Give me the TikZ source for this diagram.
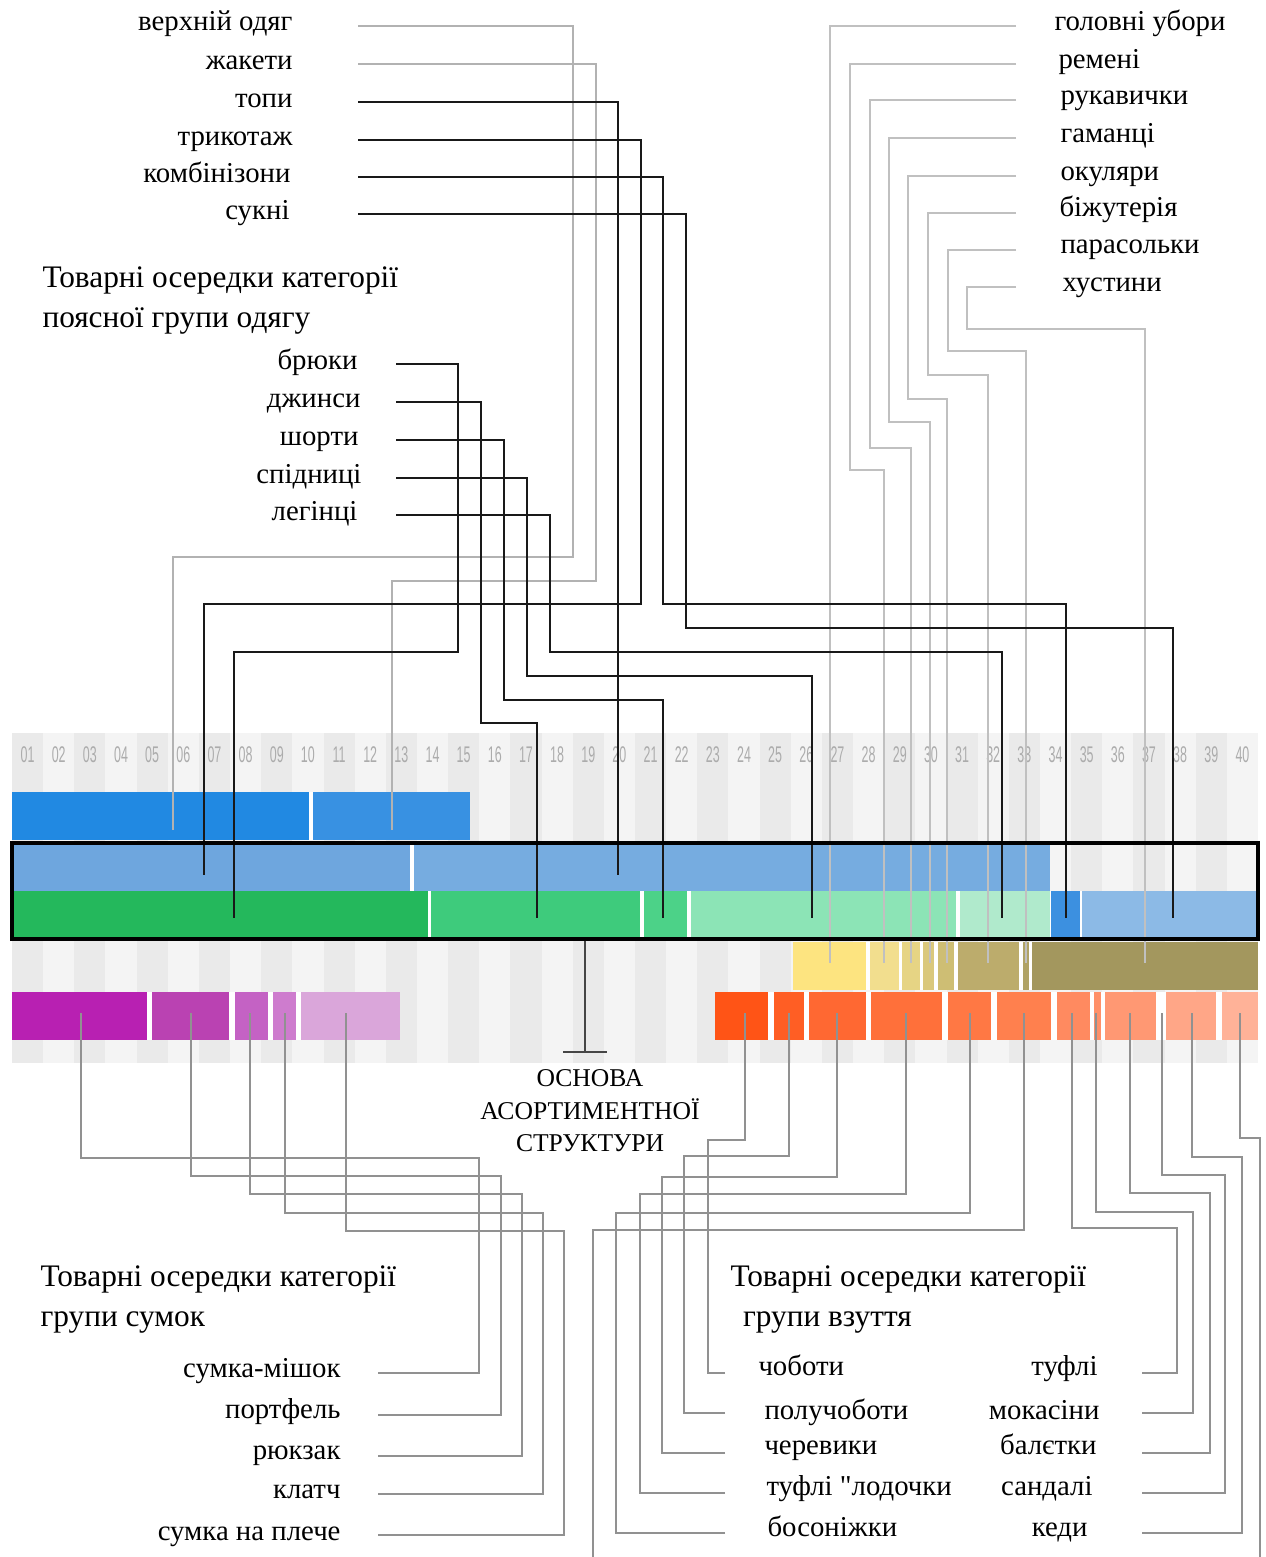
\documentclass[tikz,border=0pt]{standalone}
\usepackage{fontspec}
\setmainfont{Liberation Serif}
\setsansfont{Liberation Sans}
\newfontfamily\plainq{Liberation Serif}[Ligatures=TeXOff]
\usetikzlibrary{fit}

\tikzset{every picture/.style={line width=0.75pt}}
\tikzset{
  lbl/.style={font=\fontsize{21.6}{25}\selectfont, inner sep=0pt, text height=0.9em, text depth=0.1em},
  lblE/.style={lbl, anchor=east},
  lblW/.style={lbl, anchor=west},
  heading/.style={font=\fontsize{23.5}{30}\selectfont, align=left, anchor=north west, inner sep=0pt},
  colnum/.style={font=\sffamily\fontsize{17}{17}\selectfont, text={rgb, 255:red, 172; green, 172; blue, 172 }, inner sep=0pt},
  blkline/.style={draw={rgb, 255:red, 25; green, 25; blue, 25 }, line width=2.2pt},
  topgray/.style={draw={rgb, 255:red, 178; green, 178; blue, 178 }, line width=1.2pt},
  accgray/.style={draw={rgb, 255:red, 192; green, 192; blue, 192 }, line width=1.5pt},
  botgray/.style={draw={rgb, 255:red, 145; green, 145; blue, 145 }, line width=1pt},
  corebox/.style={draw=black, line width=2.3pt, inner sep=0pt},
  stemline/.style={draw={rgb, 255:red, 70; green, 70; blue, 70 }, line width=2.2pt},
}
\definecolor{stripeA}{RGB}{234,234,234}
\definecolor{stripeB}{RGB}{244,244,244}

\begin{document}
\begin{tikzpicture}[x=0.75pt,y=0.75pt,yscale=-1,xscale=1]
\useasboundingbox (0,0) rectangle (1266,1557);

%Columns 01..40 [background stripes]
\foreach \i in {1,...,40}{
  \ifodd\i \def\stripe{stripeA}\else\def\stripe{stripeB}\fi
  \fill[\stripe] ({12+(\i-1)*31.15},733) rectangle ({12+\i*31.15},1063);
  \node[colnum] (n\i) at ({12+(\i-0.5)*31.15},755) {\scalebox{0.55}[1]{\ifnum\i<10 0\fi\i}};
}

%Row 1: blue
\fill [white] (12,792) rectangle (470,840);
\fill [fill={rgb, 255:red, 33; green, 137; blue, 226 }] (12,792) rectangle (309,840);
\fill [fill={rgb, 255:red, 56; green, 145; blue, 226 }] (313,792) rectangle (470,840);

%Row 2: light blue
\fill [white] (12,843) rectangle (1050,891);
\fill [fill={rgb, 255:red, 110; green, 166; blue, 222 }] (12,843) rectangle (410,891);
\fill [fill={rgb, 255:red, 118; green, 172; blue, 224 }] (413.5,843) rectangle (1050,891);

%Row 3: greens and blues
\fill [white] (12,891) rectangle (1258,939);
\fill [fill={rgb, 255:red, 36; green, 184; blue, 92 }] (12,891) rectangle (428,939);
\fill [fill={rgb, 255:red, 62; green, 203; blue, 124 }] (431,891) rectangle (640,939);
\fill [fill={rgb, 255:red, 76; green, 210; blue, 136 }] (644,891) rectangle (687,939);
\fill [fill={rgb, 255:red, 140; green, 228; blue, 182 }] (691,891) rectangle (956,939);
\fill [fill={rgb, 255:red, 176; green, 234; blue, 204 }] (960,891) rectangle (1050,939);
\fill [fill={rgb, 255:red, 60; green, 144; blue, 224 }] (1051,891) rectangle (1080,939);
\fill [fill={rgb, 255:red, 140; green, 186; blue, 230 }] (1082,891) rectangle (1258,939);

%Row 4: yellow to olive
\fill [white] (793,942) rectangle (1258,990);
\fill [fill={rgb, 255:red, 253; green, 228; blue, 128 }] (793,942) rectangle (866,990);
\fill [fill={rgb, 255:red, 242; green, 222; blue, 142 }] (870,942) rectangle (899,990);
\fill [fill={rgb, 255:red, 230; green, 212; blue, 132 }] (902,942) rectangle (920,990);
\fill [fill={rgb, 255:red, 218; green, 200; blue, 124 }] (923,942) rectangle (934,990);
\fill [fill={rgb, 255:red, 206; green, 190; blue, 116 }] (938,942) rectangle (954,990);
\fill [fill={rgb, 255:red, 188; green, 172; blue, 108 }] (958,942) rectangle (1019,990);
\fill [fill={rgb, 255:red, 176; green, 163; blue, 102 }] (1023,942) rectangle (1029,990);
\fill [fill={rgb, 255:red, 163; green, 151; blue, 94 }] (1032,942) rectangle (1258,990);

%Row 5: purples
\fill [white] (12,992) rectangle (400,1040);
\fill [fill={rgb, 255:red, 184; green, 32; blue, 178 }] (12,992) rectangle (147,1040);
\fill [fill={rgb, 255:red, 186; green, 66; blue, 178 }] (152,992) rectangle (229,1040);
\fill [fill={rgb, 255:red, 196; green, 98; blue, 196 }] (235,992) rectangle (268,1040);
\fill [fill={rgb, 255:red, 206; green, 124; blue, 206 }] (273,992) rectangle (296,1040);
\fill [fill={rgb, 255:red, 218; green, 166; blue, 218 }] (301,992) rectangle (400,1040);

%Row 5: oranges
\fill [white] (715,992) rectangle (1258,1040);
\fill [fill={rgb, 255:red, 255; green, 84; blue, 22 }] (715,992) rectangle (768,1040);
\fill [fill={rgb, 255:red, 255; green, 94; blue, 36 }] (774,992) rectangle (804,1040);
\fill [fill={rgb, 255:red, 255; green, 104; blue, 50 }] (809,992) rectangle (866,1040);
\fill [fill={rgb, 255:red, 255; green, 112; blue, 58 }] (871,992) rectangle (942,1040);
\fill [fill={rgb, 255:red, 255; green, 120; blue, 68 }] (948,992) rectangle (991,1040);
\fill [fill={rgb, 255:red, 255; green, 128; blue, 78 }] (997,992) rectangle (1051,1040);
\fill [fill={rgb, 255:red, 255; green, 138; blue, 96 }] (1057,992) rectangle (1090,1040);
\fill [fill={rgb, 255:red, 255; green, 144; blue, 104 }] (1094,992) rectangle (1101,1040);
\fill [fill={rgb, 255:red, 255; green, 152; blue, 115 }] (1105,992) rectangle (1156,1040);
\fill [fill={rgb, 255:red, 255; green, 166; blue, 135 }] (1166,992) rectangle (1216,1040);
\fill [fill={rgb, 255:red, 255; green, 178; blue, 152 }] (1222,992) rectangle (1258,1040);

%Line ends in the bars
\coordinate (e-verkh) at (173,830);
\coordinate (e-zhak) at (392,830);
\coordinate (e-topy) at (618,875);
\coordinate (e-tryk) at (204,875);
\coordinate (e-komb) at (1066,918);
\coordinate (e-sukni) at (1173,918);
\coordinate (e-bruky) at (234,918);
\coordinate (e-dzh) at (537,918);
\coordinate (e-short) at (663,918);
\coordinate (e-spid) at (812,918);
\coordinate (e-leg) at (1002,918);
\coordinate (e-golov) at (830,963);
\coordinate (e-remeni) at (884,963);
\coordinate (e-ruk) at (911,963);
\coordinate (e-gam) at (930,963);
\coordinate (e-okul) at (947,963);
\coordinate (e-bizh) at (988,963);
\coordinate (e-paras) at (1026,963);
\coordinate (e-khust) at (1145,963);
\coordinate (p-mish) at (81,1013);
\coordinate (p-port) at (191,1013);
\coordinate (p-ryuk) at (250,1013);
\coordinate (p-klat) at (285,1013);
\coordinate (p-plech) at (346,1013);
\coordinate (s-chob) at (745,1013);
\coordinate (s-poluch) at (789,1013);
\coordinate (s-cher) at (837,1013);
\coordinate (s-lod) at (906,1013);
\coordinate (s-bos) at (970,1013);
\coordinate (s-x1) at (1024,1013);
\coordinate (s-x1end) at (593,1557);
\coordinate (s-tuf) at (1072,1013);
\coordinate (s-mok) at (1096,1013);
\coordinate (s-bal) at (1130,1013);
\coordinate (s-sand) at (1162,1013);
\coordinate (s-ked) at (1192,1013);
\coordinate (s-x2) at (1240,1013);
\coordinate (s-x2end) at (1260,1557);

% Text Node
\node[lblE] (verkh) at (293,25) {верхній одяг};
\node[lblE] (zhak) at (293,64) {жакети};
\node[lblE] (topy) at (293,102) {топи};
\node[lblE] (tryk) at (293,140) {трикотаж};
\node[lblE] (komb) at (291,177) {комбінізони};
\node[lblE] (sukni) at (290,214) {сукні};
% Text Node
\node[heading] (waisthead) at (42,266) {Товарні осередки категорії\\поясної групи одягу};
\node[lblE] (bruky) at (358,364) {брюки};
\node[lblE] (dzh) at (361,402) {джинси};
\node[lblE] (short) at (359,440) {шорти};
\node[lblE] (spid) at (362,478) {спідниці};
\node[lblE] (leg) at (358,515) {легінці};
% Text Node
\node[lblW] (golov) at (1054,25) {головні убори};
\node[lblW] (remeni) at (1058,63) {ремені};
\node[lblW] (ruk) at (1060,99) {рукавички};
\node[lblW] (gam) at (1060,137) {гаманці};
\node[lblW] (okul) at (1060,175) {окуляри};
\node[lblW] (bizh) at (1059,211) {біжутерія};
\node[lblW] (paras) at (1060,248) {парасольки};
\node[lblW] (khust) at (1062,286) {хустини};
% Text Node
\node[heading] (baghead) at (40,1265) {Товарні осередки категорії\\групи сумок};
\node[lblE] (mish) at (341,1372) {сумка-мішок};
\node[lblE] (port) at (341,1413) {портфель};
\node[lblE] (ryuk) at (341,1454) {рюкзак};
\node[lblE] (klat) at (341,1493) {клатч};
\node[lblE] (plech) at (341,1535) {сумка на плече};
% Text Node
\node[heading] (shoehead) at (730,1265) {Товарні осередки категорії\\\hspace{0.4em}групи взуття};
\node[lblW] (chob) at (758,1370) {чоботи};
\node[lblW] (poluch) at (764,1414) {получоботи};
\node[lblW] (cher) at (764,1449) {черевики};
\node[lblW] (lod) at (766,1490) {туфлі {\plainq"}лодочки};
\node[lblW] (bos) at (767,1531) {босоніжки};
\node[lblE] (tuf) at (1098,1370) {туфлі};
\node[lblE] (mok) at (1100,1414) {мокасіни};
\node[lblE] (bal) at (1097,1449) {балєтки};
\node[lblE] (sand) at (1093,1490) {сандалі};
\node[lblE] (ked) at (1088,1531) {кеди};

%Straight Lines [upper garments, light]
\draw[topgray] (verkh.east) ++(65,1) -| (573,557) -| (e-verkh);
\draw[topgray] (zhak.east) ++(65,0) -| (596,581) -| (e-zhak);

%Straight Lines [accessories]
\draw[accgray] (golov.west) ++(-38,1) -| (e-golov);
\draw[accgray] (remeni.west) ++(-42,1) -| (850,470) -| (e-remeni);
\draw[accgray] (ruk.west) ++(-44,1) -| (870,448) -| (e-ruk);
\draw[accgray] (gam.west) ++(-44,1) -| (889,422) -| (e-gam);
\draw[accgray] (okul.west) ++(-44,1) -| (908,399) -| (e-okul);
\draw[accgray] (bizh.west) ++(-43,2) -| (928,375) -| (e-bizh);
\draw[accgray] (paras.west) ++(-44,2) -| (948,351) -| (e-paras);
\draw[accgray] (khust.west) ++(-46,1) -| (967,329) -| (e-khust);

%Straight Lines [upper garments]
\draw[blkline] (topy.east) ++(65,0) -| (e-topy);
\draw[blkline] (tryk.east) ++(65,0) -| (641,604) -| (e-tryk);
\draw[blkline] (komb.east) ++(67,0) -| (663,604) -| (e-komb);
\draw[blkline] (sukni.east) ++(68,0) -| (686,628) -| (e-sukni);

%Straight Lines [waist garments]
\draw[blkline] (bruky.east) ++(38,0) -| (458,652) -| (e-bruky);
\draw[blkline] (dzh.east) ++(35,0) -| (481,723) -| (e-dzh);
\draw[blkline] (short.east) ++(37,0) -| (504,700) -| (e-short);
\draw[blkline] (spid.east) ++(34,0) -| (527,676) -| (e-spid);
\draw[blkline] (leg.east) ++(38,0) -| (550,652) -| (e-leg);

%Straight Lines [bags]
\draw[botgray] (mish.east) ++(37,1) -| (479,1158) -| (p-mish);
\draw[botgray] (port.east) ++(37,2) -| (501,1176) -| (p-port);
\draw[botgray] (ryuk.east) ++(37,2) -| (522,1194) -| (p-ryuk);
\draw[botgray] (klat.east) ++(37,1) -| (543,1213) -| (p-klat);
\draw[botgray] (plech.east) ++(37,0) -| (564,1231) -| (p-plech);

%Straight Lines [shoes]
\draw[botgray] (chob.west) ++(-33,3) -| (708,1140) -| (s-chob);
\draw[botgray] (poluch.west) ++(-39,-1) -| (684,1156) -| (s-poluch);
\draw[botgray] (cher.west) ++(-39,4) -| (662,1177) -| (s-cher);
\draw[botgray] (lod.west) ++(-41,3) -| (640,1194) -| (s-lod);
\draw[botgray] (bos.west) ++(-42,2) -| (616,1213) -| (s-bos);
\draw[botgray] (s-x1) |- (593,1230) -- (s-x1end);
\draw[botgray] (tuf.east) ++(44,3) -| (1177,1228) -| (s-tuf);
\draw[botgray] (mok.east) ++(42,-1) -| (1193,1212) -| (s-mok);
\draw[botgray] (bal.east) ++(45,4) -| (1210,1193) -| (s-bal);
\draw[botgray] (sand.east) ++(49,3) -| (1225,1175) -| (s-sand);
\draw[botgray] (ked.east) ++(54,2) -| (1242,1157) -| (s-ked);
\draw[botgray] (s-x2) |- (1260,1138) -- (s-x2end);

%Shape: Rectangle [core of the assortment]
\coordinate (coreNW) at (12,843);
\coordinate (coreSE) at (1258,939);
\node[corebox, fit=(coreNW)(coreSE)] (core) {};

% Text Node
\node[font=\fontsize{19.2}{24.5}\selectfont, align=center, anchor=north, inner sep=0pt] (osnova) at (590,1069) {ОСНОВА\\АСОРТИМЕНТНОЇ\\СТРУКТУРИ};
\coordinate (stem) at (585,1052);
\draw[stemline] (core.south -| stem) -- (stem);
\draw[stemline] (stem) ++(-22,0) -- ++(44,0);

\end{tikzpicture}
\end{document}
